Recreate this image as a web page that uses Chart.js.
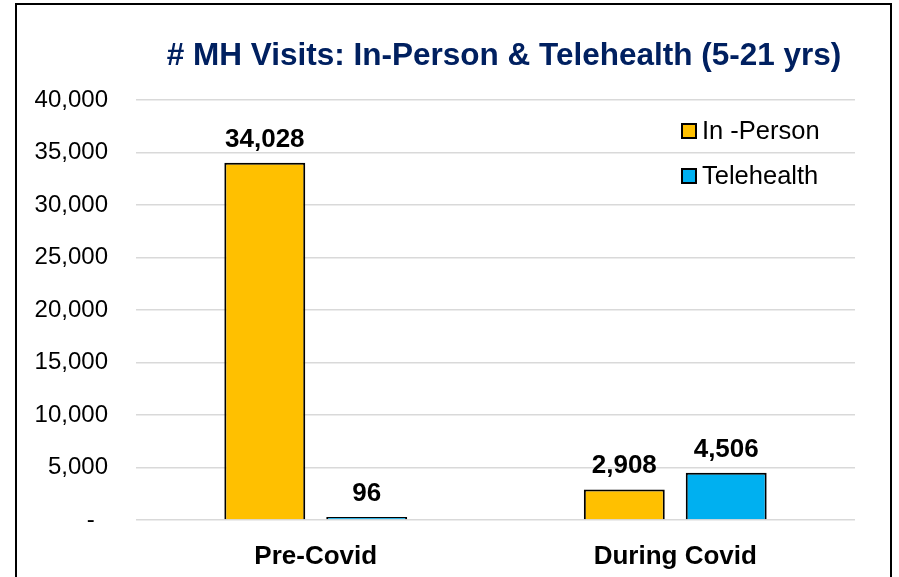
<!DOCTYPE html>
<html>
<head>
<meta charset="utf-8">
<script src="https://cdn.jsdelivr.net/npm/chart.js@4.4.1/dist/chart.umd.min.js"></script>
<style>
  html, body { margin: 0; padding: 0; background: #fff; }
  #wrap { position: relative; width: 899px; height: 577px; overflow: hidden; }
  #frame {
    position: absolute; left: 15px; top: 3px; width: 877px; height: 620px;
    border: 2.5px solid #000; box-sizing: border-box;
  }
  canvas { position: absolute; left: 0; top: 0; }
</style>
</head>
<body>
<div id="wrap">
  <div id="frame"></div>
  <canvas id="chart" width="899" height="577"></canvas>
</div>
<script>
const titleText = "# MH Visits: In-Person & Telehealth (5-21 yrs)";
const categories = ["Pre-Covid", "During Covid"];
const seriesNames = ["In -Person", "Telehealth"];
const inPerson = [34028, 2908];
const telehealth = [96, 4506];
const yMin = 0;
const yMax = 40000;
const yStep = 5000;

const FONT = "'Liberation Sans', Arial, sans-serif";
const colors = ["#FFC000", "#00B0F0"];

// number format like Excel accounting: 0 shows as "-"
const fmt = (v) => (v === 0 ? "-  " : v.toLocaleString("en-US"));

// title, value labels and the inset legend
const extras = {
  id: "extras",
  afterDatasetsDraw(chart) {
    const ctx = chart.ctx;
    const area = chart.chartArea;

    // value labels above bars
    ctx.save();
    ctx.fillStyle = "#000";
    ctx.font = "bold 26px " + FONT;
    ctx.textAlign = "center";
    ctx.textBaseline = "alphabetic";
    chart.data.datasets.forEach((ds, i) => {
      chart.getDatasetMeta(i).data.forEach((bar, j) => {
        ctx.fillText(fmt(ds.data[j]), bar.x, bar.y - 16);
      });
    });
    ctx.restore();

    // legend inside plot
    ctx.save();
    ctx.font = "25.5px " + FONT;
    ctx.textBaseline = "middle";
    ctx.textAlign = "left";
    chart.data.datasets.forEach((ds, i) => {
      const lx = area.right - 173;
      const ly = area.top + 31 + i * 45;
      ctx.fillStyle = ds.backgroundColor;
      ctx.fillRect(lx, ly - 7, 14, 14);
      ctx.strokeStyle = "#000";
      ctx.lineWidth = 2;
      ctx.strokeRect(lx, ly - 7, 14, 14);
      ctx.fillStyle = "#000";
      ctx.fillText(ds.label, lx + 20, ly + 1);
    });
    ctx.restore();

    // title
    ctx.save();
    ctx.fillStyle = "#002060";
    ctx.font = "bold 31.5px " + FONT;
    ctx.textAlign = "center";
    ctx.textBaseline = "alphabetic";
    ctx.fillText(titleText, 504, 65);
    ctx.restore();
  }
};

new Chart(document.getElementById("chart"), {
  type: "bar",
  data: {
    labels: categories,
    datasets: [
      {
        label: seriesNames[0],
        data: inPerson,
        backgroundColor: colors[0],
        borderColor: "#000",
        borderWidth: 2,
        borderSkipped: "bottom",
        minBarLength: 3,
      },
      {
        label: seriesNames[1],
        data: telehealth,
        backgroundColor: colors[1],
        borderColor: "#000",
        borderWidth: 2,
        borderSkipped: "bottom",
        minBarLength: 3,
      },
    ],
  },
  options: {
    responsive: false,
    animation: false,
    devicePixelRatio: 1,
    layout: { padding: { top: 100, right: 44, left: 0, bottom: 0 } },
    datasets: {
      bar: { categoryPercentage: 0.567, barPercentage: 0.794 },
    },
    plugins: {
      legend: { display: false },
      title: { display: false },
      tooltip: { enabled: false },
    },
    scales: {
      x: {
        grid: { display: false },
        border: { display: false },
        ticks: {
          color: "#000",
          padding: 13,
          font: { family: FONT, size: 26, weight: "bold" },
        },
        afterFit(scale) { scale.height = 57; },
      },
      y: {
        min: yMin,
        max: yMax,
        ticks: {
          stepSize: yStep,
          color: "#000",
          padding: 28,
          font: { family: FONT, size: 24 },
          callback: (v) => fmt(v),
        },
        grid: { color: "#D9D9D9", lineWidth: 1.5, drawTicks: false },
        border: { display: false },
        afterFit(scale) { scale.width = 136; },
      },
    },
  },
  plugins: [extras],
});
</script>
</body>
</html>
